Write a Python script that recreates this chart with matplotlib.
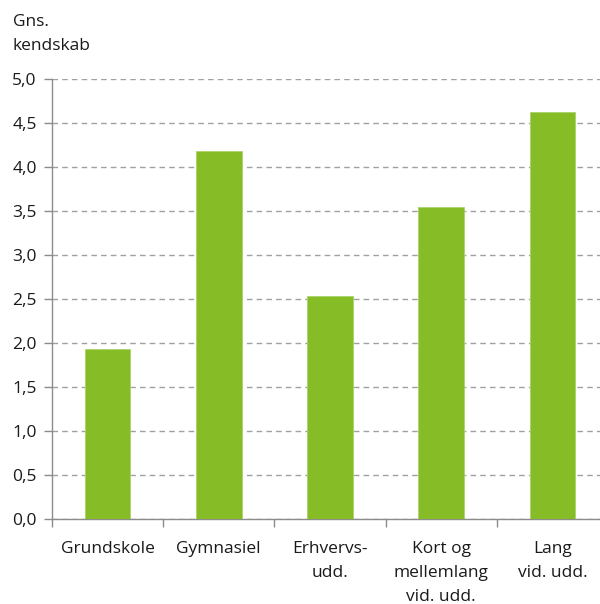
import matplotlib
matplotlib.use("Agg")
import matplotlib.pyplot as plt
from matplotlib.ticker import FixedLocator, NullFormatter

categories = ["Grundskole", "Gymnasiel", "Erhvervs-\nudd.", "Kort og\nmellemlang\nvid. udd.", "Lang\nvid. udd."]
values = [1.93, 4.18, 2.53, 3.55, 4.62]
y_ticks = [0.0, 0.5, 1.0, 1.5, 2.0, 2.5, 3.0, 3.5, 4.0, 4.5, 5.0]
y_tick_labels = ["0,0", "0,5", "1,0", "1,5", "2,0", "2,5", "3,0", "3,5", "4,0", "4,5", "5,0"]
y_title = "Gns.\nkendskab"

plt.rcParams["font.family"] = ["Open Sans", "DejaVu Sans"]
FS = 12.5

fig = plt.figure(figsize=(6.0, 6.04), dpi=100)
# axes deliberately runs past the right edge of the canvas
ax = fig.add_axes([52 / 600, 1 - 519 / 604, 556 / 600, 440 / 604])

bar_color = "#86BC25"
axis_color = "#8C8C8C"
x = list(range(len(categories)))
ax.bar(x, values, width=0.41, color=bar_color, edgecolor="#A9D36A", linewidth=0.6, zorder=3)

ax.set_xlim(-0.5, len(categories) - 0.5)
ax.set_ylim(0, 5.0)
ax.set_yticks(y_ticks)
ax.set_yticklabels(y_tick_labels, fontsize=FS, color="#1A1A1A")
ax.tick_params(axis="y", length=6, width=1, color=axis_color, pad=5, direction="out")

ax.grid(axis="y", linestyle=(0, (4, 3)), color="#A0A0A0", linewidth=1.0, zorder=0)
ax.set_axisbelow(True)

# category labels centred under bars, ticks at category boundaries
ax.xaxis.set_major_locator(FixedLocator([i - 0.5 for i in range(len(categories) + 1)]))
ax.xaxis.set_major_formatter(NullFormatter())
ax.tick_params(axis="x", length=6, width=1, color=axis_color, direction="out")
for i, lab in enumerate(categories):
    ax.text(i, -0.245, lab, ha="center", va="top", fontsize=FS, color="#1A1A1A",
            linespacing=1.7, transform=ax.transData, clip_on=False)

for side in ("top", "right"):
    ax.spines[side].set_visible(False)
for side in ("left", "bottom"):
    ax.spines[side].set_color(axis_color)
    ax.spines[side].set_linewidth(1.0)

fig.text(13 / 600, 1 - 14 / 604, y_title, ha="left", va="top", fontsize=FS,
         color="#1A1A1A", linespacing=1.7)

fig.savefig("out.png", dpi=100)
